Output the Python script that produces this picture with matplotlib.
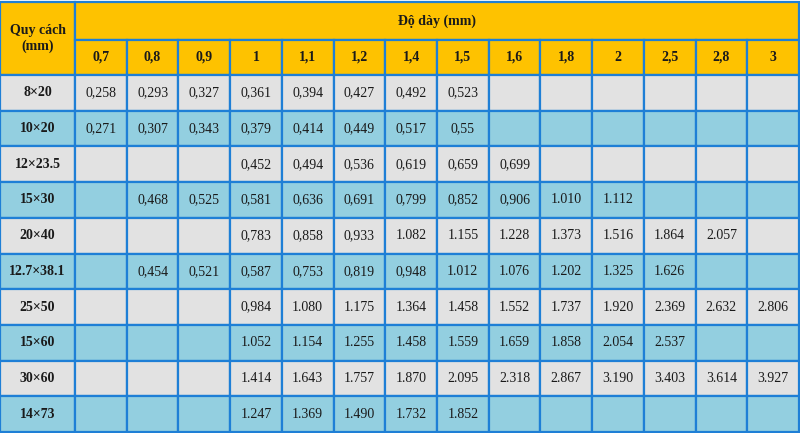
import matplotlib.pyplot as plt
from matplotlib.patches import Rectangle

plt.rcParams['font.family'] = ['Liberation Serif', 'DejaVu Serif']

thickness = ['0,7', '0,8', '0,9', '1', '1,1', '1,2', '1,4', '1,5',
             '1,6', '1,8', '2', '2,5', '2,8', '3']
sizes = ['8×20', '10×20', '12×23.5', '15×30', '20×40', '12.7×38.1',
         '25×50', '15×60', '30×60', '14×73']
values = [
    ['0,258', '0,293', '0,327', '0,361', '0,394', '0,427', '0,492', '0,523', '', '', '', '', '', ''],
    ['0,271', '0,307', '0,343', '0,379', '0,414', '0,449', '0,517', '0,55', '', '', '', '', '', ''],
    ['', '', '', '0,452', '0,494', '0,536', '0,619', '0,659', '0,699', '', '', '', '', ''],
    ['', '0,468', '0,525', '0,581', '0,636', '0,691', '0,799', '0,852', '0,906', '1.010', '1.112', '', '', ''],
    ['', '', '', '0,783', '0,858', '0,933', '1.082', '1.155', '1.228', '1.373', '1.516', '1.864', '2.057', ''],
    ['', '0,454', '0,521', '0,587', '0,753', '0,819', '0,948', '1.012', '1.076', '1.202', '1.325', '1.626', '', ''],
    ['', '', '', '0,984', '1.080', '1.175', '1.364', '1.458', '1.552', '1.737', '1.920', '2.369', '2.632', '2.806'],
    ['', '', '', '1.052', '1.154', '1.255', '1.458', '1.559', '1.659', '1.858', '2.054', '2.537', '', ''],
    ['', '', '', '1.414', '1.643', '1.757', '1.870', '2.095', '2.318', '2.867', '3.190', '3.403', '3.614', '3.927'],
    ['', '', '', '1.247', '1.369', '1.490', '1.732', '1.852', '', '', '', '', '', ''],
]

yellow = '#fec200'
gray = '#e2e2e2'
blue = '#93cfe0'
line = '#1e7fd6'

W, H = 800, 433
fig = plt.figure(figsize=(8, 4.33), dpi=100)
ax = fig.add_axes([0, 0, 1, 1])
ax.set_xlim(0, W)
ax.set_ylim(H, 0)
ax.axis('off')

x0 = 75
cw = (W - 1 - x0) / len(thickness)
top, h1, h2 = 2, 38, 35
rh = (H - 1 - top - h1 - h2) / len(sizes)
ybody = top + h1 + h2

def cell(x, y, w, h, fc, txt='', bold=False, size=10):
    ax.add_patch(Rectangle((x, y), w, h, facecolor=fc, edgecolor=line, lw=1.6))
    if txt:
        ax.text(x + w / 2, y + h / 2, txt, ha='center', va='center',
                fontsize=size, fontweight='bold' if bold else 'normal', color='#1a1a1a')

# header
cell(0, top, x0, h1 + h2, yellow, 'Quy cách\n(mm)', bold=True, size=10)
cell(x0, top, W - 1 - x0, h1, yellow, 'Độ dày (mm)', bold=True, size=10)
for j, t in enumerate(thickness):
    cell(x0 + j * cw, top + h1, cw, h2, yellow, t, bold=True, size=10)

# body
for i, s in enumerate(sizes):
    fc = gray if i % 2 == 0 else blue
    y = ybody + i * rh
    cell(0, y, x0, rh, fc, s, bold=True, size=10)
    for j, v in enumerate(values[i]):
        cell(x0 + j * cw, y, cw, rh, fc, v, size=10)

fig.savefig('out.png', dpi=100)
